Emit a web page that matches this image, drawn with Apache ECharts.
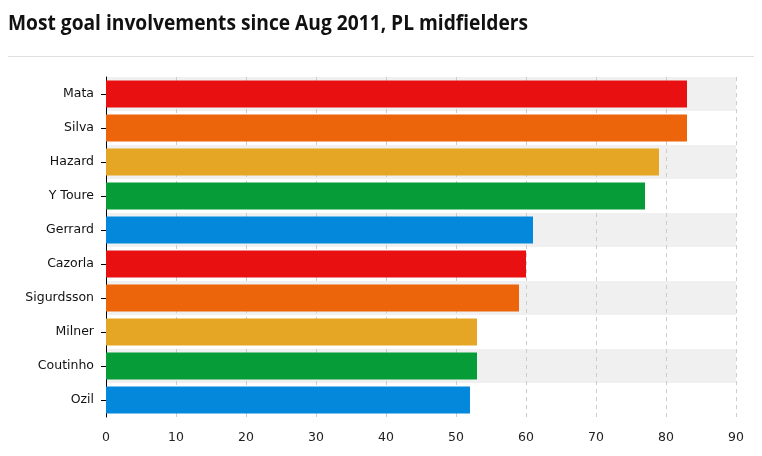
<!DOCTYPE html>
<html>
<head>
<meta charset="utf-8">
<script src="https://cdn.jsdelivr.net/npm/echarts@6/dist/echarts.min.js"></script>
<style>
html,body{margin:0;padding:0;background:#fff;}
#c{width:762px;height:456px;}
</style>
</head>
<body>
<div id="c"></div>
<script>
var titleText = 'Most goal involvements since Aug 2011, PL midfielders';
var players = ['Mata','Silva','Hazard','Y Toure','Gerrard','Cazorla','Sigurdsson','Milner','Coutinho','Ozil'];
var involvements = [83, 83, 79, 77, 61, 60, 59, 53, 53, 52];
var barColors = ['#e81010','#ec650a','#e5a525','#069c38','#0388dc'];
var xTicks = [0,10,20,30,40,50,60,70,80,90];

var titleFont = 'bold 22px "Open Sans", sans-serif';
var cv = document.createElement('canvas').getContext('2d');
cv.font = titleFont;
var titleScale = 520 / cv.measureText(titleText).width;

var chart = echarts.init(document.getElementById('c'), null, {renderer:'canvas'});
chart.setOption({
  animation:false,
  backgroundColor:'#fff',
  graphic:[
    {type:'text',x:8,y:13,scaleX:titleScale,scaleY:1,
      style:{text:titleText,font:titleFont,fill:'#111',textVerticalAlign:'top'}},
    {type:'line',shape:{x1:8,y1:56.5,x2:754,y2:56.5},style:{stroke:'#e0e0e0',lineWidth:1}}
  ],
  grid:{left:106,right:26,top:77,bottom:39,containLabel:false},
  xAxis:{
    type:'value',min:0,max:90,interval:10,
    axisLine:{show:false},axisTick:{show:false},
    axisLabel:{color:'#222',fontFamily:'"DejaVu Sans",Verdana,sans-serif',fontSize:12.5,margin:14,
      formatter:function(v){return xTicks.indexOf(v)>=0?String(v):'';}},
    splitLine:{show:true,lineStyle:{color:'#cccccc',type:[4,4],width:1}}
  },
  yAxis:{
    type:'category',data:players,inverse:true,
    axisLine:{show:true,lineStyle:{color:'#000',width:1}},
    axisTick:{show:true,alignWithLabel:true,length:5,lineStyle:{color:'#000'}},
    axisLabel:{color:'#111',fontFamily:'"DejaVu Sans",Verdana,sans-serif',fontSize:12.5,margin:12},
    splitArea:{show:true,areaStyle:{color:['#f0f0f0','#ffffff']}},
    splitLine:{show:false}
  },
  series:[{
    type:'bar',data:involvements,barCategoryGap:'20%',
    itemStyle:{color:function(p){return barColors[p.dataIndex % barColors.length];}}
  }]
});
</script>
</body>
</html>
